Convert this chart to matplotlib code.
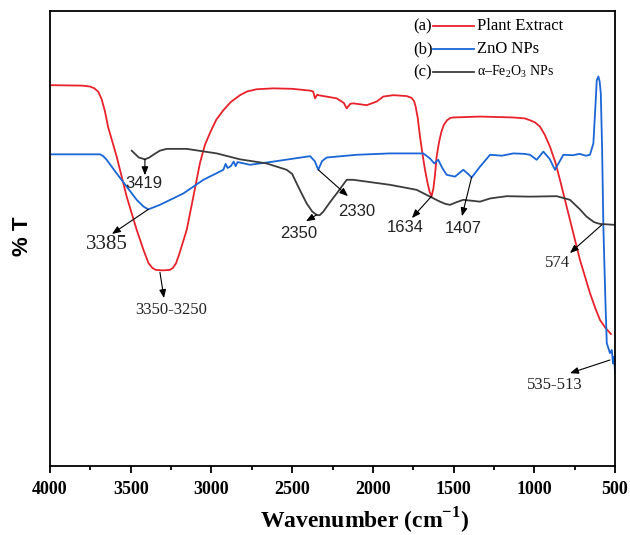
import matplotlib
matplotlib.use('Agg')
import matplotlib.pyplot as plt
from matplotlib.lines import Line2D

plt.rcParams['mathtext.fontset'] = 'custom'
plt.rcParams['mathtext.rm'] = 'Liberation Serif'
plt.rcParams['mathtext.bf'] = 'Liberation Serif:bold'

# (a) plant extract
red_wn = [4000, 3800, 3752, 3725, 3700, 3680, 3660, 3640, 3587, 3525, 3463, 3420, 3390, 3365,
          3345, 3300, 3257, 3240, 3220, 3200, 3153, 3112, 3071, 3040, 3009, 2970, 2926, 2880,
          2823, 2780, 2720, 2617, 2500, 2389, 2370, 2358, 2345, 2338, 2224, 2180, 2162, 2140,
          2121, 2038, 1976, 1935, 1873, 1790, 1760, 1745, 1735, 1722, 1708, 1690, 1677, 1660,
          1648, 1636, 1625, 1615, 1605, 1590, 1575, 1560, 1540, 1520, 1502, 1336, 1130, 1060,
          1027, 995, 965, 935, 903, 870, 841, 779, 717, 655, 620, 593, 560, 525]
red_t = [83.7, 83.6, 83.4, 83.0, 82.2, 80.6, 78.0, 74.5, 68.0, 59.2, 51.9, 47.4, 44.6, 43.5,
         43.1, 43.0, 43.1, 43.5, 44.5, 46.5, 51.9, 59.2, 66.6, 70.6, 73.2, 76.1, 78.2, 80.0,
         81.5, 82.3, 82.8, 83.0, 82.9, 82.5, 82.3, 80.8, 81.6, 81.5, 80.8, 79.8, 78.6, 79.6,
         79.7, 79.3, 80.1, 81.2, 81.5, 81.3, 80.9, 80.2, 79.0, 76.5, 72.4, 68.0, 65.1, 62.0,
         60.2, 59.3, 61.0, 64.0, 68.0, 71.2, 73.5, 75.0, 76.0, 76.5, 76.6, 76.8, 76.6, 76.4,
         76.0, 75.5, 74.6, 72.8, 70.2, 66.8, 62.9, 54.1, 45.3, 38.0, 34.5, 32.1, 30.4, 29.0]

# (b) ZnO NPs
blue_wn = [4000, 3690, 3670, 3649, 3587, 3525, 3463, 3420, 3391, 3319, 3174, 3050, 2926, 2912,
           2900, 2880, 2862, 2850, 2838, 2761, 2617, 2389, 2360, 2338, 2315, 2286, 2100, 1894,
           1688, 1646, 1620, 1595, 1570, 1543, 1491, 1440, 1410, 1388, 1336, 1274, 1200, 1130,
           1060, 1027, 985, 944, 905, 872, 820, 760, 720, 680, 655, 634, 620, 613, 603, 595,
           588, 580, 572, 560, 551, 531, 520, 512, 505, 500]
blue_t = [68.5, 68.5, 68.1, 67.3, 64.3, 61.4, 58.5, 57.0, 56.4, 57.4, 59.9, 62.9, 65.1, 66.4,
          65.5, 65.9, 66.9, 65.9, 66.8, 66.2, 66.9, 68.1, 67.0, 65.1, 67.0, 67.8, 68.4, 68.7,
          68.7, 67.6, 66.5, 67.3, 65.5, 64.0, 63.6, 65.1, 64.2, 63.4, 65.8, 68.4, 68.2, 68.7,
          68.6, 68.4, 67.3, 69.1, 67.5, 65.1, 68.4, 68.3, 68.6, 68.2, 68.4, 70.9, 80.0, 84.8,
          85.6, 84.5, 81.9, 70.0, 52.6, 37.0, 27.0, 24.8, 25.5, 22.5, 24.0, 20.5]

# (c) alpha-Fe2O3 NPs
black_wn = [3494, 3450, 3412, 3385, 3360, 3320, 3277, 3153, 2967, 2823, 2658, 2534, 2500, 2472,
            2440, 2410, 2375, 2348, 2330, 2307, 2265, 2224, 2162, 2121, 1894, 1729, 1646, 1584,
            1550, 1522, 1480, 1440, 1336, 1274, 1171, 1027, 861, 779, 720, 676, 630, 593, 500]
black_t = [69.3, 67.8, 67.4, 67.8, 68.4, 69.3, 69.7, 69.7, 68.7, 67.4, 66.5, 65.1, 64.2, 62.1,
           59.8, 57.7, 55.9, 55.2, 55.1, 55.9, 58.0, 59.9, 62.9, 62.9, 61.8, 60.7, 59.2, 58.1,
           57.6, 57.4, 58.0, 58.5, 58.1, 58.8, 59.3, 59.2, 59.3, 58.5, 56.5, 54.8, 53.6, 53.2, 53.0]

# peak labels: text, curve point, arrow end, text position, family, size
peak_labels = ['3419', '3385', '3350-3250', '2350', '2330', '1634', '1407', '574', '535-513']
peak_xy = [(3412, 67.4), (3391, 56.4), (3319, 42.6), (2348, 55.2), (2338, 65.1),
           (1636, 59.3), (1388, 63.5), (582, 53.0), (531, 23.3)]
arrow_end = [(3412, 63.9), (3616, 51.0), (3294, 36.9), (2414, 53.8), (2154, 59.3),
             (1758, 54.5), (1448, 54.9), (779, 46.8), (779, 20.4)]
text_xy = [(3418, 62.0), (3647, 48.6), (3250, 34.3), (2458, 51.0), (2098, 56.0),
           (1801, 52.5), (1442, 52.3), (859, 44.6), (872, 17.8)]
text_family = ['Liberation Sans', 'Liberation Serif', 'Liberation Serif', 'Liberation Sans',
               'Liberation Sans', 'Liberation Sans', 'Liberation Sans', 'Liberation Serif',
               'Liberation Serif']
text_size = [12, 15, 12, 12, 12, 12, 12, 12, 12]

red = '#e8222b'
blue = '#1a66d6'
dark = '#3c3c3c'

fig = plt.figure(figsize=(6.3, 5.35), dpi=100)
ax = fig.add_axes([50 / 630, 1 - 466 / 535, 565 / 630, 455 / 535])

ax.plot(red_wn, red_t, color=red, lw=1.3)
ax.plot(blue_wn, blue_t, color=blue, lw=1.3)
ax.plot(black_wn, black_t, color=dark, lw=1.3)

for lab, p, e, t, fam, fs in zip(peak_labels, peak_xy, arrow_end, text_xy, text_family, text_size):
    ax.annotate('', xy=e, xytext=p,
                arrowprops=dict(arrowstyle='-|>,head_length=0.5,head_width=0.2',
                                color='black', lw=0.8, shrinkA=0, shrinkB=0))
    ax.text(t[0], t[1], lab, family=fam, fontsize=fs, ha='center', va='center', color='#222222')

ax.set_xlim(4000, 500)
ax.set_ylim(0, 100)
ax.set_xticks([4000, 3500, 3000, 2500, 2000, 1500, 1000, 500])
ax.set_xticks(range(3750, 500, -500), minor=True)
ax.set_yticks([])
for lab in ax.get_xticklabels():
    lab.set_family('Liberation Serif')
    lab.set_fontweight('bold')
    lab.set_fontsize(13)
ax.tick_params(axis='x', which='major', direction='out', length=5, width=1.3, pad=6)
ax.tick_params(axis='x', which='minor', direction='out', length=3, width=1.3)
for sp in ax.spines.values():
    sp.set_linewidth(1.3)

fig.text(365 / 630, 1 - 521 / 535, r'Wavenumber (cm$^{\mathbf{-1}}$)', family='Liberation Serif',
         fontweight='bold', fontsize=17, ha='center', va='center')
fig.text(22 / 630, 1 - 236 / 535, '% T', family='Liberation Sans', fontweight='bold',
         fontsize=16, rotation=90, ha='center', va='center')

# legend drawn by hand: (a) —— Plant Extract
leg_rows = [('(a)', red, 'Plant Extract', 12), ('(b)', blue, 'ZnO NPs', 12),
            ('(c)', dark, 'α–Fe$_2$O$_3$ NPs', 10)]
leg_y = [26, 49, 72]
for (tag, col, name, fs), py in zip(leg_rows, leg_y):
    yy = 1 - (py - 11) / 455
    ax.text((413 - 50) / 565, yy, tag, transform=ax.transAxes, family='Liberation Serif',
            fontsize=12, ha='left', va='center')
    ax.add_line(Line2D([(433 - 50) / 565, (474 - 50) / 565], [yy, yy], transform=ax.transAxes,
                       color=col, lw=1.3))
    ax.text((477 - 50) / 565, yy, name, transform=ax.transAxes, family='Liberation Serif',
            fontsize=fs, ha='left', va='center')

fig.savefig('out.png', dpi=100)
